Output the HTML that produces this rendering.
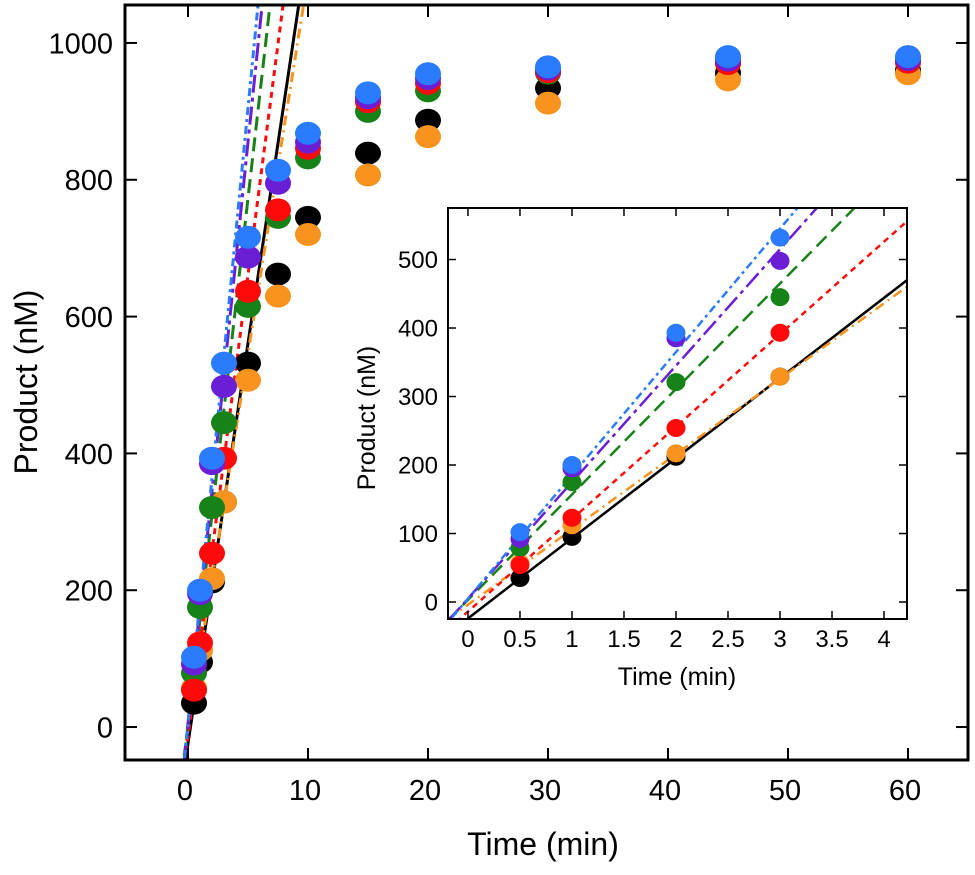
<!DOCTYPE html>
<html><head><meta charset="utf-8"><style>
html,body{margin:0;padding:0;background:#fff;overflow:hidden;width:975px;height:875px;}
svg{display:block;font-family:"Liberation Sans",Arial,sans-serif;}
</style></head><body>
<svg id="chart" width="975" height="875" viewBox="0 0 975 875" xmlns="http://www.w3.org/2000/svg"></svg>
<script>
// ---- data ----
const seriesNames = ["black","orange","green","red","purple","blue"];
const seriesColors = ["#000000","#f7931e","#178217","#ff0a0a","#6a1fd6","#2b7bff"];
const seriesDash = ["", "10,5,2,5", "14,7", "6,5", "18,5,4,5", "3,4,8,4"];
const mainTimes = [0.5,1,2,3,5,7.5,10,15,20,30,45,60];
const mainBlack  = [35,95,212,329,532,662,745,839,887,934,956,960];
const mainOrange = [57,112,217,329,507,630,720,807,863,912,946,955];
const mainGreen  = [79,175,321,445,615,745,832,900,930,956,970,972];
const mainRed    = [54,123,254,393,637,756,846,914,941,958,970,972];
const mainPurple = [92,195,385,498,687,795,855,920,948,962,975,976];
const mainBlue   = [102,200,393,532,716,814,868,927,955,965,980,980];
const mainValues = [mainBlack,mainOrange,mainGreen,mainRed,mainPurple,mainBlue];
const insetTimes = [0.5,1,2,3];
const fitSlopes = [117,110,154,135,170,180];
const fitIntercepts = [-24,-4,3,-14,5,5];
const mainXTicks = [0,10,20,30,40,50,60];
const mainYTicks = [0,200,400,600,800,1000];
const insetXTicks = [0,0.5,1,1.5,2,2.5,3,3.5,4];
const insetYTicks = [0,100,200,300,400,500];

const NS="http://www.w3.org/2000/svg";
const svg=document.getElementById('chart');
function mk(tag,attrs,parent){const e=document.createElementNS(NS,tag);for(const k in attrs)e.setAttribute(k,attrs[k]);(parent||svg).appendChild(e);return e;}

function drawPanel(p){
  const g=mk('g',{});
  
  
  const X=v=>p.x0+(v-p.xmin)/(p.xmax-p.xmin)*(p.x1-p.x0);
  const Y=v=>p.y1-(v-p.ymin)/(p.ymax-p.ymin)*(p.y1-p.y0);
  const bg=mk('rect',{x:p.x0,y:p.y0,width:p.x1-p.x0,height:p.y1-p.y0,fill:'#fff'},g);
  
  
  const cid=p.name+'-clip';
  const cp=mk('clipPath',{id:cid},g);
  mk('rect',{x:p.x0,y:p.y0,width:p.x1-p.x0,height:p.y1-p.y0},cp);
  const plot=mk('g',{'clip-path':'url(#'+cid+')'},g);
  seriesNames.forEach((n,i)=>{
    const xa=p.xmin, xb=p.xmax;
    const l=mk('line',{x1:X(xa),y1:Y(fitSlopes[i]*xa+fitIntercepts[i]),x2:X(xb),y2:Y(fitSlopes[i]*xb+fitIntercepts[i]),stroke:seriesColors[i],'stroke-width':p.lw,'stroke-dasharray':seriesDash[i]},plot);
    
    
  });
  seriesNames.forEach((n,i)=>{
    p.times.forEach((t,j)=>{
      const c=mk('ellipse',{cx:X(t),cy:Y(p.values[i][j]),rx:p.rx,ry:p.ry,fill:seriesColors[i]},plot);
      
      
    });
  });
  const fr=mk('rect',{x:p.x0,y:p.y0,width:p.x1-p.x0,height:p.y1-p.y0,fill:'none',stroke:'#000','stroke-width':p.fw},g);
  
  
  p.xt.forEach(v=>{
    mk('line',{x1:X(v),x2:X(v),y1:p.y1,y2:p.y1-p.tl,stroke:'#000','stroke-width':p.tw},g);
    mk('line',{x1:X(v),x2:X(v),y1:p.y0,y2:p.y0+p.tl,stroke:'#000','stroke-width':p.tw},g);
    const t=mk('text',{x:X(v)+p.xlx0,y:p.y1+p.xlo,'font-size':p.fs,'text-anchor':'middle',fill:'#000'},g);
    t.textContent=String(v);
    
    
  });
  p.yt.forEach(v=>{
    mk('line',{x1:p.x0,x2:p.x0+p.tl,y1:Y(v),y2:Y(v),stroke:'#000','stroke-width':p.tw},g);
    mk('line',{x1:p.x1,x2:p.x1-p.tl,y1:Y(v),y2:Y(v),stroke:'#000','stroke-width':p.tw},g);
    const t=mk('text',{x:p.x0-p.ylo,y:Y(v)+p.fs*0.36,'font-size':p.fs,'text-anchor':'end',fill:'#000'},g);
    t.textContent=String(v);
    
    
  });
  const xl=mk('text',{x:p.xlx,y:p.xly,'font-size':p.lfs,'text-anchor':'middle',fill:'#000'},g);
  xl.textContent='Time (min)';
  
  
  const yl=mk('text',{x:0,y:0,'font-size':p.lfs,'text-anchor':'middle',fill:'#000',transform:'translate('+p.ylx+','+p.yly+') rotate(-90)'},g);
  yl.textContent='Product (nM)';
  
  
}

drawPanel({name:'main-plot',x0:125,x1:968,y0:5,y1:760,xmin:-5.25,xmax:65,ymin:-48.2,ymax:1055.5,
  times:mainTimes,values:mainValues,rx:13,ry:11.5,lw:3,fw:3,tw:2,tl:12,fs:29,xlo:40,ylo:12,xlx0:-3,
  xt:mainXTicks,yt:mainYTicks,lfs:32,xlx:543,xly:855,ylx:37,yly:382});
const insetValues = mainValues.map(a=>a.slice(0,4));
drawPanel({name:'inset-plot',x0:448,x1:907,y0:208,y1:619,xmin:-0.192,xmax:4.221,ymin:-24.8,ymax:575.2,
  times:insetTimes,values:insetValues,rx:9.5,ry:9,lw:2.5,fw:2,tw:1.5,tl:8,fs:24,xlo:28,ylo:10,xlx0:0,
  xt:insetXTicks,yt:insetYTicks,lfs:25,xlx:677,xly:685,ylx:375,yly:418});
</script>
</body></html>
